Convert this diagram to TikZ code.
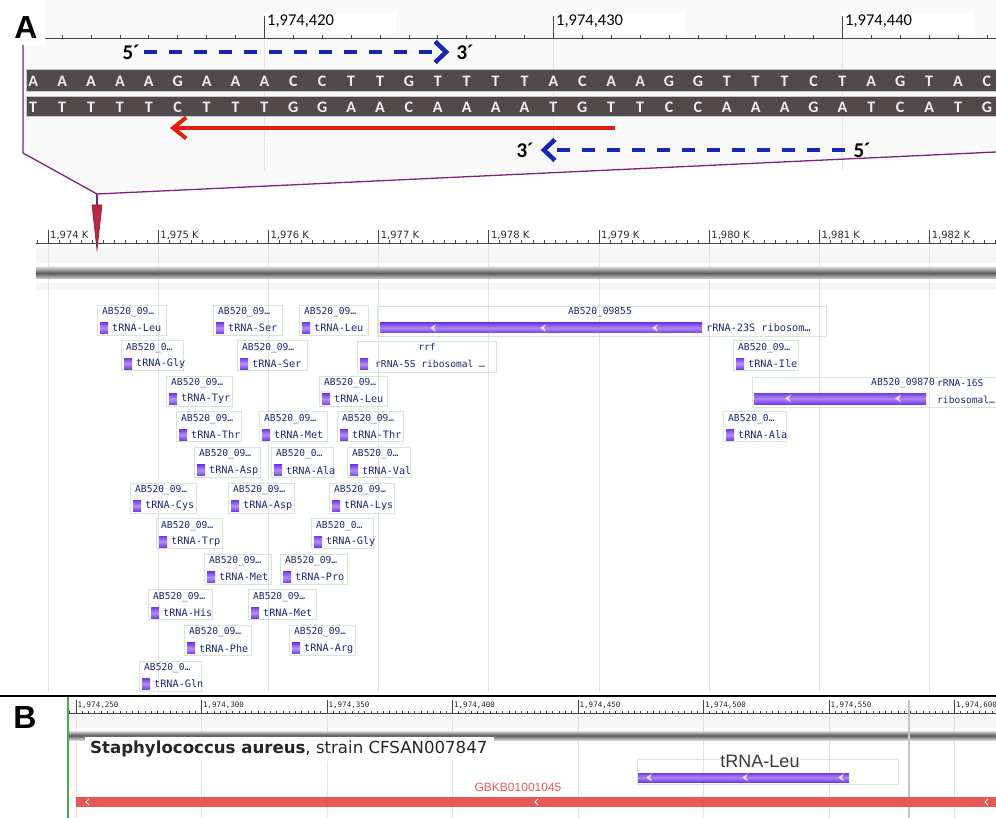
\documentclass[tikz,border=0pt]{standalone}
\usepackage{fontspec}
\setmainfont{Carlito}
\newfontfamily\genefont{DejaVu Sans Mono}
\newfontfamily\rulefont{DejaVu Sans}
\newfontfamily\panelfont{Liberation Sans}
\usetikzlibrary{arrows.meta}
\definecolor{seqgray}{RGB}{80,74,74}
\definecolor{strandblue}{RGB}{22,40,175}
\definecolor{primerred}{RGB}{226,32,12}
\definecolor{zoompurple}{RGB}{125,35,125}
\definecolor{markred}{RGB}{184,40,68}
\definecolor{genepurple}{RGB}{118,58,232}
\definecolor{genenavy}{RGB}{28,42,110}
\definecolor{boxgreen}{RGB}{212,230,212}
\definecolor{contigred}{RGB}{230,88,88}
\definecolor{trackgreen}{RGB}{70,170,70}
\tikzset{
  panellbl/.style={font=\panelfont\bfseries\fontsize{32}{32}\selectfont, inner sep=0pt},
  toplbl/.style={font=\fontsize{16.5}{17}\selectfont, anchor=west, inner sep=0pt},
  rulerline/.style={draw=gray!55!black, line width=0.8pt},
  gridline/.style={draw=gray!22, line width=0.8pt},
  seqbar/.style={fill=seqgray, draw=gray!45, line width=1pt},
  base/.style={font=\bfseries\fontsize{16}{16}\selectfont, text=gray!12, inner sep=0pt},
  endlbl/.style={font=\bfseries\fontsize{21}{21}\selectfont, inner sep=0pt},
  strand/.style={draw=strandblue, line width=4.5pt, dash pattern=on 13pt off 12pt,
    -{Straight Barb[length=11pt,width=21pt]}},
  primer/.style={draw=primerred, line width=4pt, -{Straight Barb[length=13pt,width=21pt]}},
  zoomline/.style={draw=zoompurple, line width=1.3pt},
  klbl/.style={font=\rulefont\fontsize{10}{10}\selectfont, text=gray!35!black, anchor=west, inner sep=0pt},
  chrombar/.style={top color=gray!30, bottom color=gray!35, middle color=black!65},
  genebox/.style={draw=boxgreen, line width=0.8pt},
  genelbl/.style={font=\genefont\fontsize{9.6}{10}\selectfont, text=genenavy, anchor=west, inner sep=0pt},
  trnalbl/.style={genelbl, font=\genefont\fontsize{10.2}{10}\selectfont},
  trnamark/.style={top color=genepurple, bottom color=genepurple, middle color=genepurple!55!white},
  genebar/.style={top color=genepurple, bottom color=genepurple, middle color=genepurple!60!white},
  chevron/.style={fill=gray!25},
  blbl/.style={font=\genefont\fontsize{7.5}{7.5}\selectfont, text=gray!30!black, anchor=west, inner sep=0pt},
  orgname/.style={font=\rulefont\fontsize{16.6}{17}\selectfont, text=black!85, anchor=west, inner sep=0pt},
  featlbl/.style={font=\panelfont\fontsize{18}{18}\selectfont, text=black!78, fill=white, inner sep=0.5pt},
  contiglbl/.style={font=\panelfont\fontsize{12}{12}\selectfont, text=contigred, inner sep=0pt}
}
\begin{document}
\begin{tikzpicture}[x=1pt, y=-1pt]
    \useasboundingbox (0,0) rectangle (996,818);
    \clip (0,0) rectangle (996,818);
    % A: base view
    \fill[gray!5] (23,0) -- (996,0) -- (996,152) -- (97,194) -- (23,153) -- cycle;
    \fill[white] (0,0) rectangle (45,45);
    \node[panellbl] (lblA) at (26,27) {A};
    \foreach \v [count=\k from 0] in {420,430,440} {
        \fill[white] (264.4+289*\k,13) rectangle ++(132,20);
        \draw[gridline] (264.4+289*\k,38) -- (264.4+289*\k,170);
        \draw[rulerline] (264.4+289*\k,38) -- ++(0,-22);
        \node[toplbl] (pos\v) at (267+289*\k,21) {1,974,\v};
    }
    \draw[rulerline] (45,38) -- (996,38);
    \foreach \i in {0,...,33} \draw[rulerline] (33.2+28.9*\i,38) -- ++(0,-3);
    \draw[seqbar] (26,70) rectangle (1000,92);
    \draw[seqbar] (26,97) rectangle (1000,117);
    \foreach \t/\b [count=\i from 0] in {A/T,A/T,A/T,A/T,A/T,G/C,A/T,A/T,A/T,C/G,C/G,T/A,T/A,G/C,T/A,T/A,T/A,T/A,A/T,C/G,A/T,A/T,G/C,G/C,T/A,T/A,T/A,C/G,T/A,A/T,G/C,T/A,A/T,C/G} {
        \node[base] (top\i) at (33.2+28.9*\i,81) {\t};
        \node[base] (bot\i) at (33.2+28.9*\i,107) {\b};
    }
    \node[endlbl] (p5top) at (131,52) {5´};
    \node[endlbl] (p3top) at (465,52) {3´};
    \draw[strand, shorten <=4pt, shorten >=7pt] (p5top.east) -- (p3top.west);
    \node[endlbl] (p5bot) at (862,150) {5´};
    \node[endlbl] (p3bot) at (525,150) {3´};
    \draw[strand, shorten <=8pt, shorten >=7pt] (p5bot.west) -- (p3bot.east);
    \coordinate (primerS) at (615,128);
    \coordinate (primerE) at (170,128);
    \draw[primer] (primerS) -- (primerE);
    \draw[zoomline] (23,45) -- (23,153) -- (97,194) -- (996,152);
    \draw[zoomline] (97,194) -- (97,206);
    % A: region view
    \fill[gray!7] (36,248) rectangle (996,263);
    \fill[gray!7] (36,283) rectangle (996,290);
    \foreach \v [count=\k from 0] in {974,...,982} {
        \draw[gridline] (48+110.2*\k,243) -- (48+110.2*\k,692);
        \draw[rulerline] (48+110.2*\k,243) -- ++(0,-13);
        \node[klbl] (k\v) at (50+110.2*\k,235) {1,\v\ K};
    }
    \draw[rulerline] (36,243) -- (996,243);
    \foreach \k in {0,...,87} \draw[rulerline] (37+11.02*\k,243) -- ++(0,-2.5);
    \shade[chrombar] (36,267) rectangle (996,279);
    \filldraw[fill=markred, draw=markred!70!black, line width=0.6pt] (92,205) -- (102,205) -- (97,250) -- cycle;
    \foreach \bx/\bw/\r/\id/\nm [count=\g] in {
        97/69/0/09/Leu, 213/69/0/09/Ser, 299/69/0/09/Leu,
        121/62/1/0/Gly, 237/70/1/09/Ser, 733/65/1/09/Ile,
        166/66/2/09/Tyr, 319/68/2/09/Leu,
        176/65/3/09/Thr, 259/68/3/09/Met, 337/66/3/09/Thr, 723/63/3/0/Ala,
        194/66/4/09/Asp, 271/62/4/0/Ala, 347/63/4/0/Val,
        130/66/5/09/Cys, 228/66/5/09/Asp, 329/65/5/09/Lys,
        156/66/6/09/Trp, 311/62/6/0/Gly,
        204/67/7/09/Met, 280/67/7/09/Pro,
        148/64/8/09/His, 248/68/8/09/Met,
        184/67/9/09/Phe, 289/66/9/09/Arg,
        139/62/10/0/Gln} {
        \pgfmathsetmacro{\ly}{312+35.6*\r}
        \draw[genebox] (\bx,\ly-7) rectangle ++(\bw,30);
        \node[genelbl] (id\g) at (\bx+5,\ly) {AB520\_\id…};
        \shade[trnamark] (\bx+3,\ly+10.5) rectangle ++(8,11);
        \node[trnalbl] (trna\g) at (\bx+15,\ly+16) {tRNA-\nm};
    }
    \draw[genebox] (377,306) rectangle (826,336);
    \node[genelbl, anchor=center] (r23id) at (600,312) {AB520\_09855};
    \shade[genebar] (380,323) rectangle (702,333);
    \foreach \c in {430,540,652} \fill[chevron] (\c,328) -- ++(6,-4) -- ++(-2,4) -- ++(2,4) -- cycle;
    \node[trnalbl] (r23) at (706,328) {rRNA-23S ribosom…};
    \draw[genebox] (357,341) rectangle (496,372);
    \node[genelbl, anchor=center] (rrfid) at (427,347) {rrf};
    \shade[trnamark] (360,358.5) rectangle ++(8,11);
    \node[genelbl] (r5) at (375,364) {rRNA-5S ribosomal …};
    \draw[genebox] (752,377) rectangle (1000,407);
    \node[genelbl, anchor=east] (r16id) at (935,383) {AB520\_09870};
    \shade[genebar] (754,393) rectangle (926,404);
    \foreach \c in {785,895} \fill[chevron] (\c,398.5) -- ++(6,-4) -- ++(-2,4) -- ++(2,4) -- cycle;
    \node[genelbl] (r16a) at (937,383) {rRNA-16S};
    \node[genelbl] (r16b) at (937,400) {ribosomal…};
    % B
    \draw[black, line width=1.2pt] (0,696) -- (996,696);
    \node[panellbl] (lblB) at (25,717) {B};
    \fill[gray!7] (68,716) rectangle (996,728);
    \foreach \v [count=\k from 0] in {250,300,350,400,450,500,550,600} {
        \draw[gridline] (76+125.5*\k,713) -- (76+125.5*\k,818);
        \draw[rulerline] (76+125.5*\k,713) -- ++(0,-13);
        \node[blbl] (b\v) at (77.5+125.5*\k,705) {1,974,\v};
    }
    \draw[rulerline] (68,713) -- (996,713);
    \foreach \k in {0,...,147} \draw[rulerline] (69.7+6.275*\k,713) -- ++(0,-2);
    \shade[chrombar] (68,731) rectangle (996,740);
    \draw[gray!45, line width=1.5pt] (909,700) -- (909,818);
    \draw[trackgreen, line width=1.2pt] (68,697) -- (68,818);
    \fill[white] (85,737) rectangle (494,761);
    \node[orgname] (org) at (90,749) {\textbf{Staphylococcus aureus}, strain CFSAN007847};
    \draw[genebox] (637,759) rectangle (898,784);
    \node[featlbl] (leu) at (760,761) {tRNA-Leu};
    \shade[genebar] (638,773) rectangle (849,782);
    \foreach \c in {646,742,838} \fill[chevron] (\c,777.5) -- ++(6,-4) -- ++(-2,4) -- ++(2,4) -- cycle;
    \node[contiglbl] (contig) at (518,787) {GBKB01001045};
    \fill[contigred] (76,797) rectangle (996,807);
    \foreach \c in {86,535,985} \draw[white, line width=0.8pt] (\c+3,799) -- (\c,802) -- (\c+3,805);
\end{tikzpicture}
\end{document}
